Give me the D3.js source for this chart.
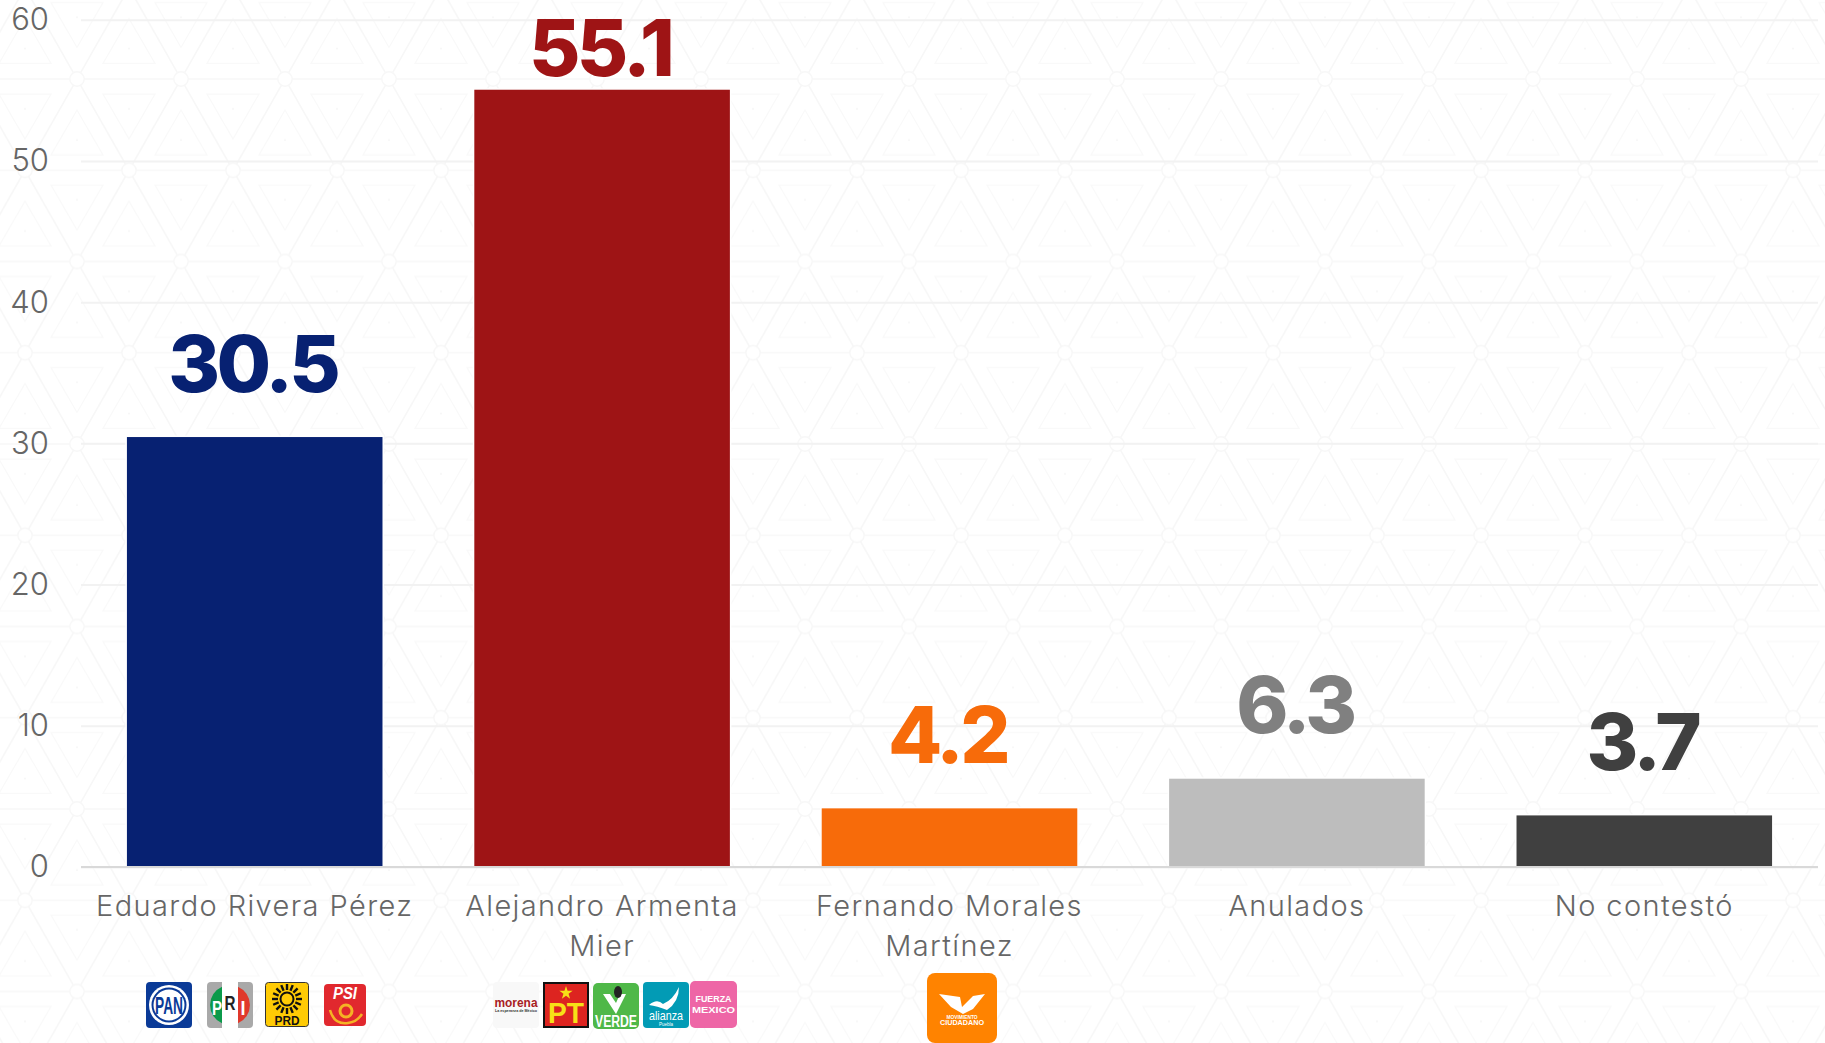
<!DOCTYPE html>
<html>
<head>
<meta charset="utf-8">
<script src="https://d3js.org/d3.v7.min.js"></script>
<style>
  html, body { margin: 0; padding: 0; background: #fff; overflow: hidden; }
  svg { display: block; }
  text { font-family: Inter, "Noto Sans", sans-serif; }
  .axis text { fill: #666; font-weight: 300; font-size: 29px; letter-spacing: 1.4px; }
  .axis.y text { font-size: 31px; letter-spacing: 0; }
</style>
</head>
<body>
<script>
const w = 1825;
const h = 1043;

const categories = ["Eduardo Rivera Pérez", "Alejandro Armenta Mier", "Fernando Morales Martínez", "Anulados", "No contestó"];
const values = [30.5, 55.1, 4.2, 6.3, 3.7];
const barColors = ["#072172", "#9e1415", "#f76b0a", "#bdbdbd", "#404040"];
const labelColors = ["#072172", "#9e1415", "#f76b0a", "#808080", "#404040"];
const yTicks = [0, 10, 20, 30, 40, 50, 60];

const margin = { top: 19.8, right: 7, bottom: 176.1, left: 81 };

const svg = d3.select("body").append("svg")
    .attr("width", w)
    .attr("height", h);

// background tile, triangles on a hex lattice
const tileW = 104, tileH = 182.5, line = "#f7f7f7";
const tile = svg.append("defs").append("pattern")
    .attr("id", "tile")
    .attr("patternUnits", "userSpaceOnUse")
    .attr("x", 77)
    .attr("y", 79)
    .attr("width", tileW)
    .attr("height", tileH);

const lat = tile.append("g").attr("fill", "none").attr("stroke", line).attr("stroke-width", 1.6);
const hw = tileW / 2, hh = tileH / 2;
[0, hh, tileH].forEach(y => lat.append("line").attr("x1", 0).attr("x2", tileW).attr("y1", y).attr("y2", y));
[[0, 0, hw, hh], [hw, hh, tileW, tileH], [tileW, 0, hw, hh], [hw, hh, 0, tileH]].forEach(d => {
    lat.append("line").attr("x1", d[0]).attr("y1", d[1]).attr("x2", d[2]).attr("y2", d[3]);
});

// small triangles inside the lattice cells, each with a dot in the middle
const tri = (cx, top, dir) => `M${cx - 26},${top}L${cx + 26},${top}L${cx},${top + dir * 45}Z`;
const tris = tile.append("g").attr("fill", "none").attr("stroke", "#f9f9f9").attr("stroke-width", 1.2);
[[hw, 15, 1], [0, 76, -1], [tileW, 76, -1], [hw, 167, -1], [0, 106, 1], [tileW, 106, 1]].forEach(d => {
    tris.append("path").attr("d", tri(d[0], d[1], d[2]));
    tile.append("circle").attr("cx", d[0]).attr("cy", d[1] + d[2] * 15).attr("r", 1).attr("fill", "#f6f6f6");
});

// the little rings on the lattice corners
[[0, 0], [tileW, 0], [0, tileH], [tileW, tileH], [hw, hh]].forEach(d => {
    tile.append("circle").attr("cx", d[0]).attr("cy", d[1]).attr("r", 7.2)
        .attr("fill", "#fff").attr("stroke", line).attr("stroke-width", 1.4);
});

svg.append("rect").attr("width", w).attr("height", h).attr("fill", "url(#tile)");

const xScale = d3.scaleBand()
    .domain(categories)
    .range([margin.left, w - margin.right])
    .paddingInner(0.26)
    .paddingOuter(0.13);

const yScale = d3.scaleLinear()
    .domain([0, 60])
    .range([h - margin.bottom, margin.top]);

const yAxis = d3.axisLeft(yScale)
    .tickValues(yTicks)
    .tickSize(-(w - margin.left - margin.right))
    .tickPadding(32);

const gy = svg.append("g")
    .attr("class", "axis y")
    .attr("transform", `translate(${margin.left}, 0)`)
    .call(yAxis);
gy.select(".domain").remove();
gy.selectAll(".tick line").attr("stroke", "#f2f2f2").attr("stroke-width", 2);

// bars, white edge like the original
svg.append("g")
    .selectAll("rect")
    .data(values)
    .enter()
    .append("rect")
    .attr("x", (d, i) => xScale(categories[i]))
    .attr("y", d => yScale(d))
    .attr("width", xScale.bandwidth())
    .attr("height", d => yScale(0) - yScale(d))
    .attr("fill", (d, i) => barColors[i])
    .attr("stroke", "#fff")
    .attr("stroke-width", 1.5);

// baseline goes over the bars
svg.append("line")
    .attr("x1", margin.left).attr("x2", w - margin.right)
    .attr("y1", yScale(0)).attr("y2", yScale(0))
    .attr("stroke", "#d9d9d9").attr("stroke-width", 2);

// value labels, kept inside the chart for the tall bar
svg.append("g")
    .selectAll("text")
    .data(values)
    .enter()
    .append("text")
    .attr("x", (d, i) => xScale(categories[i]) + xScale.bandwidth() / 2 - 2)
    .attr("y", d => Math.max(yScale(d) - 44.5, 76))
    .attr("text-anchor", "middle")
    .attr("font-size", 79)
    .attr("font-weight", 800)
    .attr("letter-spacing", -3.6)
    .attr("fill", (d, i) => labelColors[i])
    .text(d => d);

const xAxis = d3.axisBottom(xScale).tickSize(0).tickPadding(29);
const gx = svg.append("g")
    .attr("class", "axis")
    .attr("transform", `translate(0, ${yScale(0)})`)
    .call(xAxis);
gx.select(".domain").remove();

// wrap the long names on two lines
gx.selectAll(".tick text").each(function(d) {
    const el = d3.select(this);
    const words = d.split(" ");
    const second = words.length > 2 && d.length > 21 ? words.pop() : null;
    el.text(null);
    el.append("tspan").attr("x", 0).attr("dy", "0.71em").text(words.join(" "));
    if (second) el.append("tspan").attr("x", 0).attr("dy", 39.5).text(second);
});

// party logos, each drawn in its own box
const logoFont = "'Liberation Sans', sans-serif";
function box(g, s, fill, r) {
    g.append("rect").attr("width", s).attr("height", s).attr("rx", r === undefined ? 4 : r).attr("fill", fill);
}
function label(g, str, x, y, size, fill, fit, weight) {
    const t = g.append("text")
        .attr("x", x).attr("y", y)
        .attr("text-anchor", "middle")
        .attr("font-size", size)
        .attr("font-weight", weight || 700)
        .attr("fill", fill)
        .style("font-family", logoFont)
        .text(str);
    if (fit) t.attr("textLength", fit).attr("lengthAdjust", "spacingAndGlyphs");
    return t;
}
const logoDraw = {
    PAN(g) {
        box(g, 46, "#0a3a97");
        g.append("circle").attr("cx", 23).attr("cy", 23).attr("r", 20).attr("fill", "#fff");
        g.append("circle").attr("cx", 23).attr("cy", 23).attr("r", 17.5).attr("fill", "#0a3a97");
        g.append("circle").attr("cx", 23).attr("cy", 23).attr("r", 15.5).attr("fill", "#fff");
        label(g, "PAN", 23, 32, 24, "#0a3a97", 28);
    },
    PRI(g) {
        box(g, 46, "#a9a9a9");
        g.append("rect").attr("x", 15).attr("width", 16).attr("height", 46).attr("fill", "#fff");
        g.append("path").attr("d", "M15,4.7A20,20 0 0,0 15,41.3Z").attr("fill", "#0b9a4a");
        g.append("path").attr("d", "M31,4.7A20,20 0 0,1 31,41.3Z").attr("fill", "#e0382b");
        label(g, "P", 10, 33, 20, "#fff", 10);
        label(g, "R", 23, 28, 20, "#222", 11);
        label(g, "I", 36, 33, 20, "#fff", 5);
    },
    PRD(g) {
        g.append("rect").attr("x", 0.5).attr("y", 0.5).attr("width", 43).attr("height", 44).attr("rx", 3).attr("fill", "#ffcb05").attr("stroke", "#333");
        const c = g.append("g").attr("transform", "translate(22,17)");
        d3.range(16).forEach(i => {
            c.append("line").attr("x1", 0).attr("x2", 0).attr("y1", -9).attr("y2", -15)
                .attr("stroke", "#111").attr("stroke-width", 2.4)
                .attr("transform", `rotate(${i * 22.5})`);
        });
        c.append("circle").attr("r", 6.5).attr("fill", "none").attr("stroke", "#111").attr("stroke-width", 2);
        label(g, "PRD", 22, 43, 13, "#111", 25);
    },
    PSI(g) {
        box(g, 42, "#e1282e");
        label(g, "PSI", 21, 15, 16, "#fff", 24).attr("font-style", "italic");
        g.append("circle").attr("cx", 22).attr("cy", 27).attr("r", 6).attr("fill", "none").attr("stroke", "#f5b324").attr("stroke-width", 3);
        g.append("path").attr("d", "M6,26Q10,41 24,39Q33,38 38,30").attr("fill", "none").attr("stroke", "#f5b324").attr("stroke-width", 2.5);
    },
    morena(g) {
        box(g, 46, "#f8f8f8");
        label(g, "morena", 23, 25, 12.5, "#a8201f", 43);
        label(g, "La esperanza de México", 23, 30, 4, "#333", 42);
    },
    PT(g) {
        g.append("rect").attr("x", 1).attr("y", 1).attr("width", 44).attr("height", 44).attr("fill", "#dd2420").attr("stroke", "#111").attr("stroke-width", 2);
        g.append("path").attr("d", d3.symbol(d3.symbolStar, 55)()).attr("transform", "translate(23,11)").attr("fill", "#f7e017");
        label(g, "PT", 23, 41, 30, "#f7e017", 36);
    },
    VERDE(g) {
        box(g, 46, "#4fb848", 5);
        g.append("path").attr("d", "M10,11L23,31L33,11L27,11L23,20L17,11Z").attr("fill", "#fff");
        g.append("ellipse").attr("cx", 25).attr("cy", 9).attr("rx", 4).attr("ry", 6).attr("fill", "#222");
        label(g, "VERDE", 23, 44, 16, "#fff", 42);
    },
    alianza(g) {
        box(g, 46, "#029bb5");
        g.append("path").attr("d", "M6,23Q14,16 20,22Q30,18 36,5Q36,20 24,28Q14,24 6,23Z").attr("fill", "#fff");
        label(g, "alianza", 23, 38, 13, "#fff", 34, 400);
        label(g, "Puebla", 23, 44, 5.5, "#fff", 14, 400);
    },
    fuerza(g) {
        box(g, 47, "#ee66a6", 5);
        label(g, "FUERZA", 23.5, 21, 9, "#fff", 36);
        label(g, "MEXICO", 23.5, 32, 9, "#fff", 43);
    },
    MC(g) {
        box(g, 70, "#ff8300", 8);
        g.append("path").attr("d", "M12,21L33,24L35,34L46,23L58,21L46,36L36,41L24,34Z").attr("fill", "#fff");
        label(g, "MOVIMIENTO", 35, 46, 5.6, "#fff", 31);
        label(g, "CIUDADANO", 35, 52, 6.4, "#fff", 44);
    }
};

const logoNames = ["PAN", "PRI", "PRD", "PSI", "morena", "PT", "VERDE", "alianza", "fuerza", "MC"];
const logoX = [146, 207, 265, 324, 493, 543, 593, 643, 690, 927];
const logoY = [982, 982, 982, 984, 982, 982, 983, 982, 981, 973];
logoNames.forEach((name, i) => {
    const g = svg.append("g").attr("transform", `translate(${logoX[i]}, ${logoY[i]})`);
    logoDraw[name](g);
});
</script>
</body>
</html>
